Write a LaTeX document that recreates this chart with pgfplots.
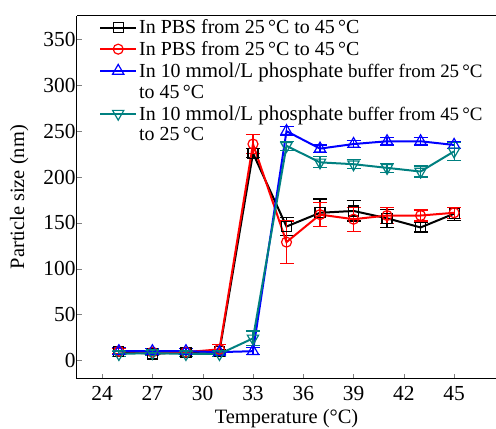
\documentclass[border=0pt]{standalone}
\usepackage{fontspec}
\setmainfont{Liberation Serif}
\usepackage{pgfplots}
\pgfplotsset{compat=1.18}
\definecolor{tealc}{RGB}{0,128,128}

\begin{document}
\begin{tikzpicture}
\useasboundingbox (-77bp,-50.3bp) rectangle (419bp,378.7bp);
\begin{axis}[
    at={(0,0)}, anchor=south west,
    scale only axis, width=419bp, height=363bp,
    xmin=22.5, xmax=47.5, ymin=-20, ymax=376,
    axis x line=box, axis y line=left,
    x axis line style={-}, y axis line style={-},
    axis line style={line width=1bp},
    xtick={24,27,...,45}, ytick={0,50,...,350},
    xtick pos=bottom, ytick pos=left,
    tick align=inside, major tick length=5bp,
    minor tick num=0,
    /pgf/number format/assume math mode=true,
    tick label style={font=\fontsize{21.5}{24}\selectfont},
    xticklabel style={yshift=-4bp},
    yticklabel style={xshift=2bp},
    label style={font=\fontsize{20.5}{24}\selectfont},
    xlabel={Temperature (°C)},
    xlabel style={yshift=-2bp},
    ylabel={Particle size (nm)},
    ylabel style={yshift=8bp},
    legend style={at={(rel axis cs:0,1)}, anchor=north west, xshift=22bp, yshift=-2bp,
        draw=none, fill=none, font=\fontsize{20}{22}\selectfont, row sep=2bp, inner sep=0pt},
    legend cell align=left,
    legend image code/.code={\draw[mark repeat=2, mark phase=2, #1] plot coordinates {(0bp,0bp) (18bp,0bp) (36bp,0bp)};},
    every axis plot/.append style={line width=2bp},
    error bars/error bar style={line width=1.2bp},
    error bars/error mark options={rotate=90, mark size=7bp, line width=1.2bp},
]
\addplot[black, mark=square, mark size=5bp, mark options={fill=white, line width=1.2bp},
    error bars/.cd, y dir=both, y explicit] coordinates {
    (25,10) +- (0,3) (27,7) +- (0,2) (29,9) +- (0,2) (31,10) +- (0,2)
    (33,226) +- (0,5) (35,146) +- (0,10) (37,161) +- (0,15) (39,163) +- (0,11)
    (41,155) +- (0,10) (43,145) +- (0,5) (45,160) +- (0,7)};
\addplot[red, mark=o, mark size=5bp, mark options={fill=white, line width=1.2bp},
    error bars/.cd, y dir=both, y explicit] coordinates {
    (25,10) +- (0,3) (27,9) +- (0,2) (29,9) +- (0,2) (31,12) +- (0,5)
    (33,236) +- (0,10) (35,129) +- (0,23) (37,159) +- (0,13) (39,154) +- (0,13)
    (41,158) +- (0,9) (43,158) +- (0,6) (45,161) +- (0,6)};
\addplot[blue, mark=triangle, mark size=6.5bp, mark options={fill=white, line width=1.2bp},
    error bars/.cd, y dir=both, y explicit] coordinates {
    (25,10) +- (0,4) (27,10) +- (0,3) (29,10) +- (0,3) (31,9) +- (0,2)
    (33,10) +- (0,4) (35,250) +- (0,5) (37,231) +- (0,4) (39,236) +- (0,4)
    (41,239) +- (0,4) (43,239) +- (0,4) (45,235) +- (0,4)};
\addlegendimage{empty legend}
\addplot[tealc, mark=triangle, mark size=6.5bp, mark options={fill=white, line width=1.2bp, rotate=180},
    error bars/.cd, y dir=both, y explicit] coordinates {
    (25,7) +- (0,3) (27,8) +- (0,3) (29,7) +- (0,3) (31,7) +- (0,3)
    (33,24) +- (0,8) (35,234) +- (0,5) (37,216) +- (0,6) (39,214) +- (0,5)
    (41,210) +- (0,5) (43,206) +- (0,6) (45,228) +- (0,10)};
\addlegendimage{empty legend}
\legend{In PBS from 25\,°C to 45\,°C,
    In PBS from 25\,°C to 45\,°C,
    {In 10 {\fontsize{21}{24}\selectfont mmol/L phosphate} {\fontsize{19}{22}\selectfont buffer from 25\,°C}},
    to 45\,°C,
    {In 10 {\fontsize{21}{24}\selectfont mmol/L phosphate} {\fontsize{19}{22}\selectfont buffer from 45\,°C}},
    to 25\,°C}
\end{axis}
\end{tikzpicture}
\end{document}
